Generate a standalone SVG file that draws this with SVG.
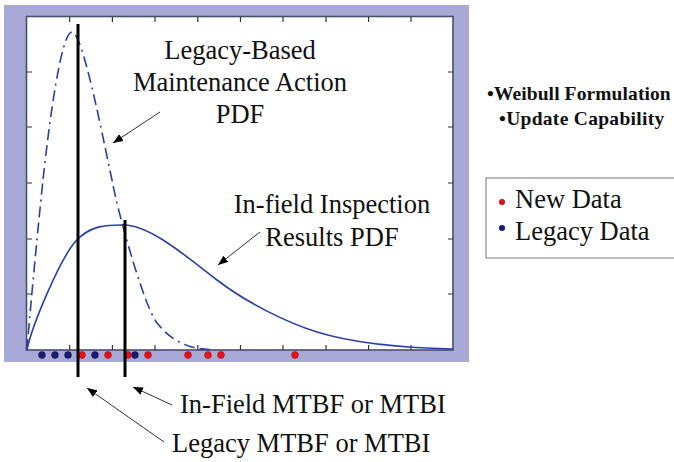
<svg xmlns="http://www.w3.org/2000/svg" width="674" height="462" viewBox="0 0 674 462">
<defs>
<style>
.t{font-family:"Liberation Serif","Times New Roman",serif;font-size:26.5px;fill:#111}
.b{font-family:"Liberation Serif","Times New Roman",serif;font-weight:bold;font-size:19.5px;letter-spacing:0.3px;fill:#111}
.tick{stroke:#333;stroke-width:1.2}
.pdf{fill:none;stroke:#2a3fa8;stroke-width:1.6}
.vl{stroke:#000;stroke-width:3}
.ar{stroke:#333;stroke-width:1;fill:none;marker-end:url(#ah)}
.red{fill:#e8121c;stroke:#a01018;stroke-width:0.6}
.blue{fill:#1c1c72;stroke:#10104a;stroke-width:0.6}
</style>
<marker id="ah" viewBox="0 0 10 8" refX="10" refY="4" markerWidth="10" markerHeight="8" markerUnits="userSpaceOnUse" orient="auto">
<path d="M0,0 L10,4 L0,8 Z" fill="#000"/>
</marker>
</defs>
<rect width="674" height="462" fill="#fff"/>
<g id="plot">
<rect x="4" y="5" width="465" height="357" fill="#a8a9d6"/>
<rect x="26.5" y="16.5" width="426.5" height="333.5" fill="#fff" stroke="#4c4d6c" stroke-width="1.6"/>
<g id="ticks">
<path class="tick" d="M69.7,17v5M112.4,17v5M155,17v5M197.8,17v5M240.5,17v5M283,17v5M326,17v5M368.6,17v5M411,17v5
M69.7,350v-5M112.4,350v-5M155,350v-5M197.8,350v-5M240.5,350v-5M283,350v-5M326,350v-5M368.6,350v-5M411,350v-5
M27,72h5M27,127h5M27,183h5M27,239h5M27,294h5
M453,72h-5M453,127h-5M453,183h-5M453,239h-5M453,294h-5"/>
</g>
<g id="legacy-pdf">
<path class="pdf" stroke-dasharray="11 5 11 5 2 5" d="M27,350 C30,310 40,207 43,180 C49,124 61,32 72,32 C83,32 104,144 112,180 C119,218 145,308 157,323 C169,338 185,349 210,349.5"/>
</g>
<g id="infield-pdf">
<path class="pdf" d="M27,350 C32,325 60,259.5 75,242 C90,224.5 108,225 124,225 C150,225 187,257 217,280 C247,303 287,322.7 317,332 C357,344.4 410,348 453,349"/>
</g>
<g id="data-points">
<circle class="blue" cx="42" cy="355" r="3.4"/>
<circle class="blue" cx="55" cy="355" r="3.4"/>
<circle class="blue" cx="68" cy="355" r="3.4"/>
<circle class="red" cx="82" cy="355" r="3.4"/>
<circle class="blue" cx="95" cy="355" r="3.4"/>
<circle class="red" cx="108" cy="355" r="3.4"/>
<circle class="red" cx="128" cy="355" r="3.4"/>
<circle class="blue" cx="135" cy="355" r="3.4"/>
<circle class="red" cx="148" cy="355" r="3.4"/>
<circle class="red" cx="188" cy="355" r="3.4"/>
<circle class="red" cx="208" cy="355" r="3.4"/>
<circle class="red" cx="221" cy="355" r="3.4"/>
<circle class="red" cx="295" cy="355" r="3.4"/>
</g>
</g>
<g id="mtbf-lines">
<line class="vl" x1="78" y1="24" x2="78" y2="377"/>
<line class="vl" x1="125" y1="220" x2="125" y2="377"/>
</g>
<g id="connectors">
<line class="ar" x1="160" y1="112" x2="113" y2="143"/>
<line class="ar" x1="260" y1="232" x2="218" y2="265"/>
<line class="ar" x1="172" y1="405" x2="133" y2="387"/>
<line class="ar" x1="164" y1="442" x2="87" y2="388"/>
</g>
<g id="label-legacy-pdf">
<text class="t" x="240" y="59" text-anchor="middle">Legacy-Based</text>
<text class="t" x="240" y="91" text-anchor="middle">Maintenance Action</text>
<text class="t" x="240" y="123" text-anchor="middle">PDF</text>
</g>
<g id="label-infield-pdf">
<text class="t" x="332" y="213" text-anchor="middle">In-field Inspection</text>
<text class="t" x="332" y="246" text-anchor="middle">Results PDF</text>
</g>
<g id="label-infield-mtbf">
<text class="t" x="180" y="413">In-Field MTBF or MTBI</text>
</g>
<g id="label-legacy-mtbf">
<text class="t" x="172" y="452">Legacy MTBF or MTBI</text>
</g>
<g id="notes">
<text class="b" x="487" y="100" style="letter-spacing:0.1px">•Weibull Formulation</text>
<text class="b" x="499" y="125">•Update Capability</text>
</g>
<g id="legend">
<rect x="486" y="178" width="200" height="80" fill="#fff" stroke="#777" stroke-width="1"/>
<circle class="red" cx="502" cy="202" r="2.8"/>
<text class="t" x="515" y="208">New Data</text>
<circle class="blue" cx="502" cy="228" r="2.8"/>
<text class="t" x="515" y="240">Legacy Data</text>
</g>
</svg>
